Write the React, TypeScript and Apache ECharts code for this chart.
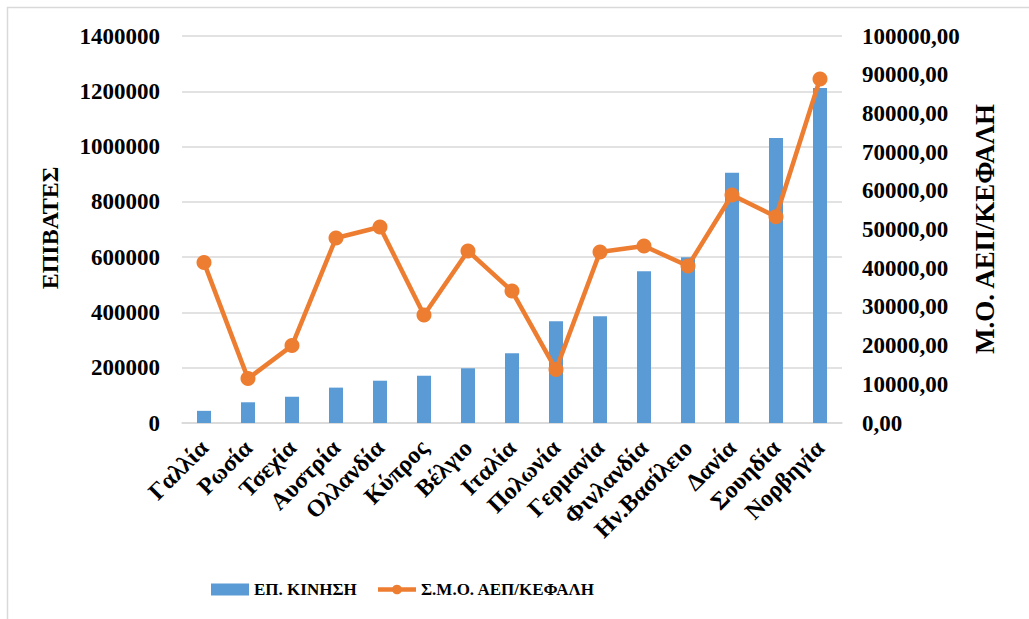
import React, { useEffect, useRef } from "react";
import * as echarts from "echarts";

const categories = ["Γαλλία", "Ρωσία", "Τσεχία", "Αυστρία", "Ολλανδία", "Κύπρος", "Βέλγιο", "Ιταλία", "Πολωνία", "Γερμανία", "Φινλανδία", "Ην.Βασίλειο", "Δανία", "Σουηδία", "Νορβηγία"];
const passengers = [44000, 75000, 95000, 128000, 153000, 171000, 198000, 252000, 368000, 386000, 549000, 600000, 905000, 1031000, 1212000];
const gdpPerCapita = [41450, 11470, 20000, 47800, 50650, 27900, 44450, 34100, 13800, 44200, 45730, 40570, 58900, 53300, 88900];
const seriesNames = ["ΕΠ. ΚΙΝΗΣΗ", "Σ.Μ.Ο. ΑΕΠ/ΚΕΦΑΛΗ"];
const leftAxisName = "ΕΠΙΒΑΤΕΣ";
const rightAxisName = "Μ.Ο. ΑΕΠ/ΚΕΦΑΛΗ";

const FONT = "'Liberation Serif', 'Times New Roman', serif";

export default function App() {
  const ref = useRef<HTMLDivElement>(null);
  useEffect(() => {
    if (!ref.current) return;
    const chart = echarts.init(ref.current, null, { renderer: "svg" });
    chart.setOption({
      animation: false,
      backgroundColor: "#ffffff",
      textStyle: { fontFamily: FONT },
      grid: { left: 182, right: 187, top: 36, bottom: 196 },
      legend: {
        left: 206,
        top: 576,
        itemWidth: 38,
        itemHeight: 12,
        itemGap: 19,
        textStyle: { fontFamily: FONT, fontSize: 17, fontWeight: "bold", color: "#000" },
        data: [
          { name: seriesNames[0], icon: "rect" },
          { name: seriesNames[1], lineStyle: { width: 4.5 } },
        ],
      },
      xAxis: {
        type: "category",
        data: categories,
        axisLine: { lineStyle: { color: "#d9d9d9", width: 1.5 } },
        axisTick: { show: false },
        axisLabel: {
          rotate: 45,
          interval: 0,
          margin: 21,
          fontFamily: FONT,
          fontSize: 24,
          fontWeight: "bold",
          color: "#000",
        },
      },
      yAxis: [
        {
          type: "value",
          min: 0,
          max: 1400000,
          interval: 200000,
          axisLine: { show: false },
          axisTick: { show: false },
          splitLine: { lineStyle: { color: "#d9d9d9", width: 1.5 } },
          axisLabel: {
            margin: 22,
            fontFamily: FONT,
            fontSize: 23,
            fontWeight: "bold",
            color: "#000",
            formatter: (v: number) => String(v),
          },
        },
        {
          type: "value",
          min: 0,
          max: 100000,
          interval: 10000,
          axisLine: { show: false },
          axisTick: { show: false },
          splitLine: { show: false },
          axisLabel: {
            margin: 20,
            fontFamily: FONT,
            fontSize: 23,
            fontWeight: "bold",
            color: "#000",
            formatter: (v: number) => v.toFixed(2).replace(".", ","),
          },
        },
      ],
      series: [
        {
          name: seriesNames[0],
          type: "bar",
          data: passengers,
          barWidth: 14,
          itemStyle: { color: "#5B9BD5" },
          yAxisIndex: 0,
        },
        {
          name: seriesNames[1],
          type: "line",
          data: gdpPerCapita,
          yAxisIndex: 1,
          symbol: "circle",
          symbolSize: 15,
          lineStyle: { color: "#ED7D31", width: 4.5 },
          itemStyle: { color: "#ED7D31" },
        },
      ],
      graphic: [
        { type: "line", shape: { x1: 7.5, y1: 7, x2: 7.5, y2: 619 }, style: { stroke: "#d9d9d9", lineWidth: 1.5 } },
        { type: "line", shape: { x1: 7, y1: 7.5, x2: 1029, y2: 7.5 }, style: { stroke: "#d9d9d9", lineWidth: 1.5 } },
        {
          type: "text",
          x: 50,
          y: 228,
          rotation: Math.PI / 2,
          style: {
            text: leftAxisName,
            font: `bold 24px ${FONT}`,
            fill: "#000",
            align: "center",
            verticalAlign: "middle",
          },
        },
        {
          type: "text",
          x: 985,
          y: 229,
          rotation: Math.PI / 2,
          style: {
            text: rightAxisName,
            font: `bold 27px ${FONT}`,
            fill: "#000",
            align: "center",
            verticalAlign: "middle",
          },
        },
      ],
    });
    return () => chart.dispose();
  }, []);
  return <div ref={ref} style={{ position: "absolute", left: 0, top: 0, width: 1029, height: 619 }} />;
}
